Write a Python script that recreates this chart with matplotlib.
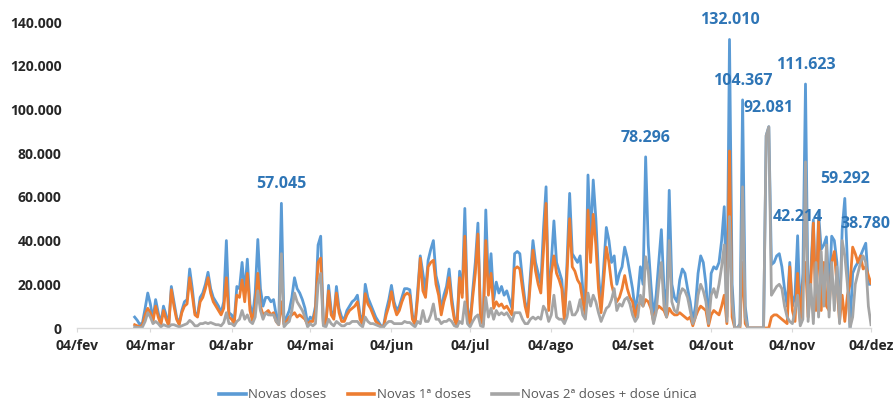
import matplotlib
matplotlib.use("Agg")
import matplotlib.pyplot as plt
from matplotlib.ticker import FuncFormatter
import pandas as pd
import numpy as np

# ---------------- data (daily, from 26/fev to 04/dez) ----------------
start_date = "2021-02-26"

novas_doses = [
    5000, 3500, 1500, 2500, 9000, 16000, 11000, 4000, 13000, 7000,
    2000, 10000, 6000, 1500, 19000, 12000, 5000, 2000, 8000, 12000,
    13000, 27000, 18000, 7000, 6000, 14000, 16000, 20000, 25500, 18000,
    14000, 12000, 10000, 7000, 12000, 40000, 7000, 6000, 3000, 19000,
    18000, 30000, 16000, 31500, 11000, 5000, 16000, 40500, 18000, 10000,
    14000, 14000, 12000, 13000, 6000, 3000, 57045, 2000, 5000, 8000,
    14000, 23000, 18000, 16000, 13000, 9000, 2000, 5000, 4000, 10000,
    38000, 42000, 3000, 2000, 19500, 8000, 5000, 19000, 9000, 5000,
    4000, 8000, 10000, 12000, 13000, 15000, 6000, 2500, 20000, 14000,
    11000, 8000, 5000, 3000, 1000, 1000, 8000, 13000, 19500, 12000,
    8000, 10000, 14000, 18000, 18000, 17500, 6000, 2000, 17000, 33000,
    25000, 17000, 31000, 36000, 40000, 24000, 19000, 8000, 15000, 19000,
    27000, 14000, 5000, 1000, 26000, 16000, 54700, 10000, 2000, 17000,
    30000, 48000, 5000, 2000, 54000, 20000, 34000, 13000, 21000, 16000,
    19000, 15000, 17000, 13000, 9000, 34000, 35000, 34000, 22000, 12000,
    7000, 24000, 40000, 30000, 25000, 20000, 45000, 64600, 11000, 30000,
    49000, 30000, 26000, 22000, 5000, 30000, 61600, 34000, 32000, 30000,
    33000, 18000, 10000, 70000, 40000, 67700, 50000, 25000, 10000, 28000,
    46000, 40000, 30000, 33000, 20000, 25000, 28000, 37000, 32000, 25000,
    18000, 8000, 15000, 28000, 20000, 78296, 38000, 20000, 5000, 15000,
    30000, 45000, 18000, 10000, 63000, 20000, 14000, 12000, 22000, 27000,
    25000, 18000, 12000, 3000, 10000, 25000, 33000, 30000, 20000, 3000,
    25000, 28000, 27000, 30000, 40000, 55500, 5000, 132010, 20000, 0,
    0, 2000, 104367, 10000, 0, 0, 0, 0, 0, 0,
    0, 88000, 92081, 29000, 30000, 33000, 34000, 28000, 18000, 10000,
    30000, 10000, 15000, 42214, 5000, 25000, 111623, 10000, 25000, 49500,
    10000, 52000, 36000, 38000, 41700, 15000, 42000, 40000, 30000, 5000,
    45000, 59292, 30000, 0, 25000, 28000, 30000, 33000, 36000, 38780,
    20000, 20000,
]

novas_1as_doses = [
    1500, 1000, 500, 1500, 6000, 9000, 7000, 3000, 10000, 5000,
    1500, 8000, 4000, 1000, 17500, 10000, 4000, 1500, 7000, 10000,
    11000, 23000, 15000, 6000, 5000, 12000, 14000, 18000, 23000, 16000,
    12000, 10000, 8000, 6000, 9000, 23000, 5000, 4000, 2000, 15000,
    14000, 22000, 12000, 25000, 8000, 3000, 10000, 25000, 10000, 6000,
    7000, 8000, 6000, 7000, 3000, 1500, 12000, 1500, 3000, 5000,
    6000, 7000, 5000, 6000, 5000, 4000, 1500, 3000, 3000, 8000,
    30000, 32000, 2000, 1500, 17000, 6000, 4000, 16000, 7000, 3000,
    3000, 6000, 8000, 9000, 10000, 12000, 4000, 1500, 15700, 11000,
    9000, 6000, 3000, 2000, 500, 500, 6000, 10000, 16600, 10000,
    6000, 8000, 12000, 15000, 16000, 15000, 4000, 1500, 14000, 31900,
    17000, 14000, 28000, 30000, 31000, 20000, 15000, 6000, 12000, 16000,
    23000, 11000, 4000, 500, 23000, 14000, 42000, 8000, 1500, 14000,
    25000, 43000, 4000, 1500, 40000, 15000, 25000, 9000, 12000, 10000,
    11000, 9000, 10000, 8000, 6000, 27000, 28000, 27000, 18000, 10000,
    5000, 20000, 35600, 26000, 20000, 16000, 35000, 57000, 8000, 25000,
    33000, 25000, 22000, 18000, 3000, 25000, 50000, 28000, 26000, 22000,
    20000, 12000, 6000, 54000, 30000, 52000, 38000, 18000, 7000, 22000,
    37000, 30000, 20000, 15000, 12000, 14000, 18000, 24000, 18000, 14000,
    12000, 5000, 10000, 12000, 10000, 13000, 12000, 9000, 3000, 8000,
    10000, 9000, 8000, 5000, 9000, 7000, 6000, 6000, 7000, 6000,
    5000, 4000, 5000, 1000, 5000, 8000, 10000, 9000, 8000, 1000,
    6000, 8000, 7000, 6000, 10000, 15000, 2000, 81000, 5000, 0,
    0, 0, 30000, 2000, 0, 0, 0, 0, 0, 0,
    0, 0, 0, 5000, 6000, 6000, 5000, 4000, 3000, 2000,
    28000, 8000, 3000, 25000, 3000, 20000, 30000, 5000, 20000, 48000,
    8000, 49000, 8000, 30000, 10000, 8000, 30000, 35000, 20000, 3000,
    15000, 3000, 15000, 20000, 37000, 34000, 30000, 33000, 27000, 28000,
    24000, 20500,
]

novas_2as_doses_dose_unica = [
    500, 300, 200, 500, 3000, 7000, 5000, 2000, 3000, 2000,
    500, 1500, 1000, 500, 1500, 1500, 1000, 500, 1000, 1500,
    2000, 3500, 2500, 1000, 1000, 2000, 2000, 2500, 2000, 2500,
    2000, 1500, 1500, 1000, 2500, 7000, 2000, 2000, 1000, 3000,
    4000, 8000, 4000, 6000, 3000, 2000, 5000, 17000, 8000, 4000,
    7000, 6000, 6000, 6000, 3000, 1500, 34000, 500, 2000, 3000,
    8000, 16000, 12000, 10000, 8000, 5000, 500, 2000, 1000, 2000,
    20000, 25000, 1000, 500, 4000, 2000, 1000, 3000, 2000, 1000,
    1000, 2000, 2000, 3000, 3000, 3000, 1500, 500, 5000, 3000,
    2000, 2000, 1500, 1000, 500, 500, 2000, 3000, 3000, 2000,
    2000, 2000, 2000, 3000, 2500, 2500, 1500, 500, 3000, 2000,
    8000, 3000, 3000, 6000, 11000, 4000, 4000, 2000, 3000, 3000,
    4000, 3000, 1000, 500, 3000, 2000, 12000, 2000, 500, 3000,
    5000, 6000, 1000, 500, 14000, 5000, 9000, 4000, 8000, 6000,
    7000, 6000, 7000, 5000, 3000, 7000, 7000, 7000, 4000, 2000,
    2000, 4000, 5000, 4000, 5000, 4000, 10000, 8000, 3000, 6000,
    15000, 5000, 4000, 4000, 2000, 5000, 12000, 6000, 6000, 8000,
    13000, 6000, 4000, 16000, 10000, 15000, 12000, 7000, 3000, 6000,
    9000, 10000, 13000, 18000, 8000, 11000, 10000, 13000, 14000, 11000,
    6000, 3000, 5000, 15000, 10000, 32600, 26000, 10000, 2000, 7000,
    20000, 30000, 10000, 5000, 40000, 12000, 8000, 7000, 15000, 18000,
    17000, 14000, 8000, 2000, 5000, 15000, 20000, 17000, 12000, 2000,
    15000, 18000, 14000, 20000, 28000, 38000, 3000, 51000, 12000, 0,
    0, 1000, 64600, 5000, 0, 0, 0, 0, 0, 0,
    0, 88000, 92081, 15000, 17000, 19000, 20000, 18000, 10000, 5000,
    3000, 2000, 8000, 15000, 1000, 4000, 76000, 3000, 20000, 2000,
    30000, 5000, 35000, 10000, 38000, 5000, 30000, 8000, 28000, 2000,
    40000, 33000, 20000, 0, 5000, 20000, 25000, 30000, 33000, 30000,
    10000, 1500,
]

labelled_values = [57045, 78296, 132010, 104367, 92081, 111623, 42214, 59292, 38780]

tick_dates = ["2021-02-04", "2021-03-04", "2021-04-04", "2021-05-04", "2021-06-04",
              "2021-07-04", "2021-08-04", "2021-09-04", "2021-10-04", "2021-11-04",
              "2021-12-04"]
tick_labels = ["04/fev", "04/mar", "04/abr", "04/mai", "04/jun", "04/jul",
               "04/ago", "04/set", "04/out", "04/nov", "04/dez"]

series_names = ["Novas doses", "Novas 1ª doses", "Novas 2ª doses + dose única"]
series_colors = ["#5B9BD5", "#ED7D31", "#A5A5A5"]

# ---------------- plot ----------------
plt.rcParams['font.family'] = ['Open Sans', 'DejaVu Sans']

dates = pd.date_range(start_date, periods=len(novas_doses), freq="D")

fig = plt.figure(figsize=(8.93, 4.05), dpi=100)
ax = fig.add_axes([77 / 893, 1 - 328 / 405, (871 - 77) / 893, (328 - 22) / 405])

for vals, name, col in zip([novas_doses, novas_1as_doses, novas_2as_doses_dose_unica],
                           series_names, series_colors):
    ax.plot(dates, vals, color=col, lw=2.0, label=name, solid_joinstyle="round")

ax.set_ylim(0, 140000)
ax.set_xlim(pd.Timestamp(tick_dates[0]), pd.Timestamp(tick_dates[-1]))
ax.set_yticks(np.arange(0, 140001, 20000))
ax.yaxis.set_major_formatter(FuncFormatter(lambda v, p: f"{int(v):,}".replace(",", ".")))
ax.set_xticks([pd.Timestamp(d) for d in tick_dates])
ax.set_xticklabels(tick_labels)

for s in ["top", "right", "left"]:
    ax.spines[s].set_visible(False)
ax.spines["bottom"].set_color("#D9D9D9")
ax.spines["bottom"].set_linewidth(1.0)
ax.tick_params(axis="y", length=0, pad=11, labelsize=10, labelcolor="#262626")
ax.tick_params(axis="x", length=3, color="#D9D9D9", pad=5, labelsize=10, labelcolor="#262626")
for lab in ax.get_xticklabels() + ax.get_yticklabels():
    lab.set_fontweight("bold")

for v in labelled_values:
    i = novas_doses.index(v)
    ax.annotate(f"{v:,}".replace(",", "."), xy=(dates[i], v), xytext=(0, 13.7),
                textcoords="offset points", ha="center", va="center",
                fontsize=11.5, fontweight="bold", color="#2E75B6", annotation_clip=False)

leg = fig.legend(loc="center", bbox_to_anchor=(458 / 893, 1 - 395 / 405), ncol=3, frameon=False,
                 handlelength=2.0, columnspacing=1.6, handletextpad=0.2, fontsize=9.5,
                 labelcolor="#595959")
for h in leg.get_lines():
    h.set_linewidth(2.6)

fig.savefig("out.png", dpi=100, facecolor="white")
